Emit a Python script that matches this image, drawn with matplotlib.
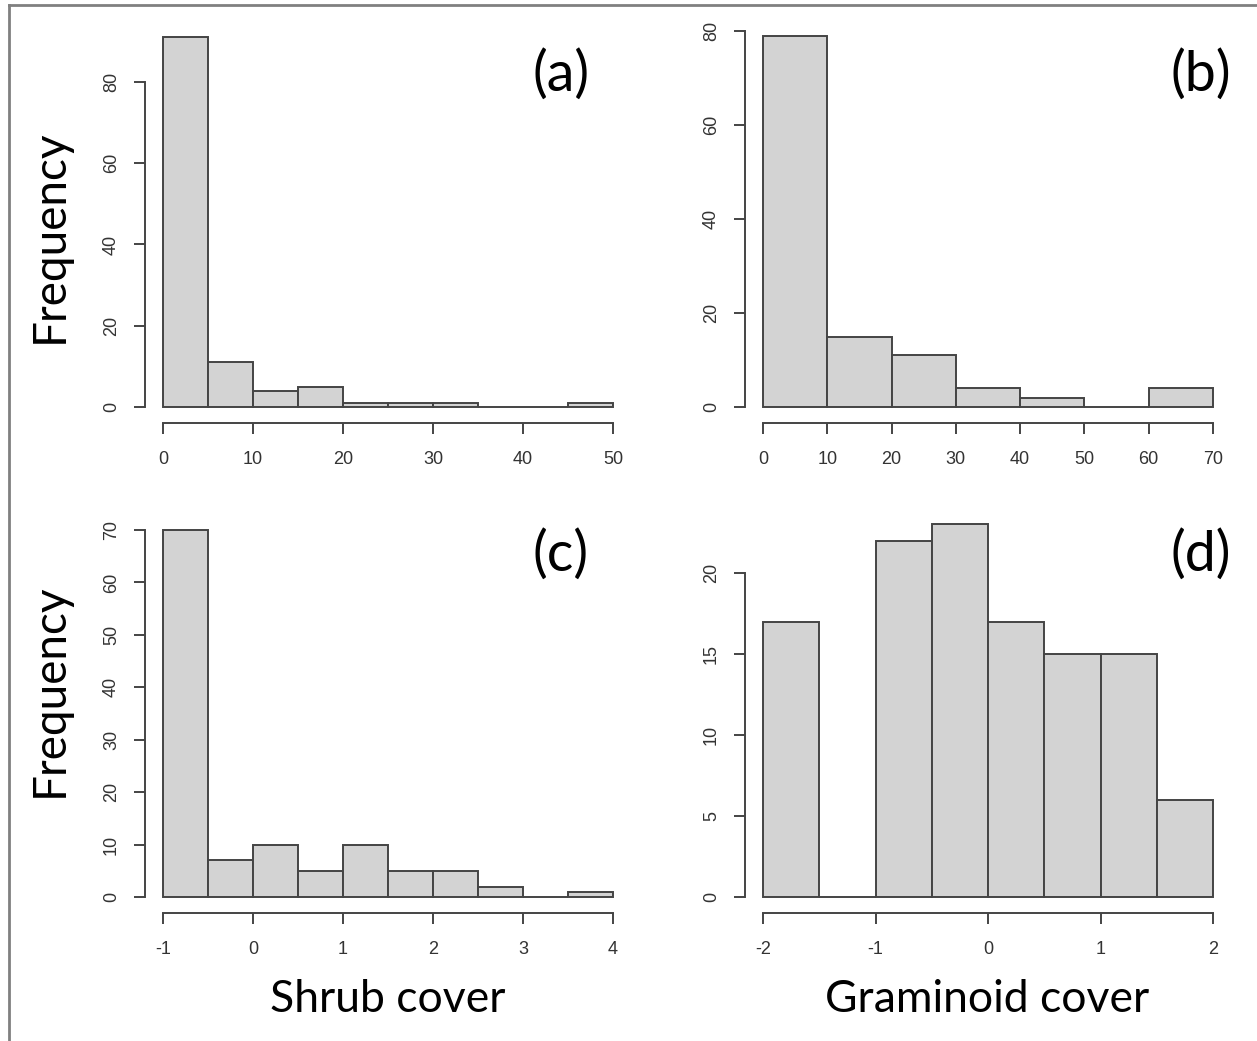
import numpy as np
import matplotlib
matplotlib.use("Agg")
import matplotlib.pyplot as plt
from matplotlib.lines import Line2D

# ---------------- data ----------------
a_edges = [0, 5, 10, 15, 20, 25, 30, 35, 40, 45, 50]
a_counts = [91, 11, 4, 5, 1, 1, 1, 0, 0, 1]
a_xticks = [0, 10, 20, 30, 40, 50]
a_yticks = [0, 20, 40, 60, 80]

b_edges = [0, 10, 20, 30, 40, 50, 60, 70]
b_counts = [79, 15, 11, 4, 2, 0, 4]
b_xticks = [0, 10, 20, 30, 40, 50, 60, 70]
b_yticks = [0, 20, 40, 60, 80]

c_edges = [-1.0, -0.5, 0.0, 0.5, 1.0, 1.5, 2.0, 2.5, 3.0, 3.5, 4.0]
c_counts = [70, 7, 10, 5, 10, 5, 5, 2, 0, 1]
c_xticks = [-1, 0, 1, 2, 3, 4]
c_yticks = [0, 10, 20, 30, 40, 50, 60, 70]

d_edges = [-2.0, -1.5, -1.0, -0.5, 0.0, 0.5, 1.0, 1.5, 2.0]
d_counts = [17, 0, 22, 23, 17, 15, 15, 6]
d_xticks = [-2, -1, 0, 1, 2]
d_yticks = [0, 5, 10, 15, 20]

panel_letters = ["(a)", "(b)", "(c)", "(d)"]
x_labels = ["Shrub cover", "Graminoid cover"]
y_label = "Frequency"

# ---------------- layout ----------------
W, H = 1257, 1041
fig = plt.figure(figsize=(W / 100, H / 100), dpi=100)
fig.patch.set_facecolor("white")

# pixel calibration: (data x0, px x0, data x1, px x1, px of y=0, px per y unit)
calib = [
    (0, 163, 50, 613, 407, (407 - 82) / 80),
    (0, 763, 70, 1213, 407, (407 - 31) / 80),
    (-1, 163, 4, 613, 897, (897 - 530) / 70),
    (-2, 763, 2, 1213, 897, (897 - 573) / 20),
]
panels = [
    (a_edges, a_counts, a_xticks, a_yticks),
    (b_edges, b_counts, b_xticks, b_yticks),
    (c_edges, c_counts, c_xticks, c_yticks),
    (d_edges, d_counts, d_xticks, d_yticks),
]

tick_color = "#333333"
line_color = "#444444"
fill_color = "#D3D3D3"

axes = []
for i, ((edges, counts, xt, yt), (dx0, px0, dx1, px1, py0, ppu)) in enumerate(zip(panels, calib)):
    xr = edges[-1] - edges[0]
    xlim = (edges[0] - 0.04 * xr, edges[-1] + 0.04 * xr)
    ymax = max(counts)
    ylim = (-0.04 * ymax, 1.04 * ymax)
    sx = (px1 - px0) / (dx1 - dx0)
    left_px = px0 + (xlim[0] - dx0) * sx
    right_px = px0 + (xlim[1] - dx0) * sx
    bot_px = py0 - ylim[0] * ppu
    top_px = py0 - ylim[1] * ppu
    ax = fig.add_axes([left_px / W, 1 - bot_px / H,
                       (right_px - left_px) / W, (bot_px - top_px) / H])
    ax.set_xlim(*xlim)
    ax.set_ylim(*ylim)
    ax.patch.set_alpha(0)

    widths = np.diff(edges)
    ax.bar(edges[:-1], counts, width=widths, align="edge",
           color=fill_color, edgecolor=line_color, linewidth=1.4, clip_on=False)

    for s in ["top", "right"]:
        ax.spines[s].set_visible(False)
    ax.spines["left"].set_bounds(yt[0], yt[-1])
    ax.spines["bottom"].set_bounds(xt[0], xt[-1])
    ax.spines["bottom"].set_position(("outward", 1))
    for s in ["left", "bottom"]:
        ax.spines[s].set_color(line_color)
        ax.spines[s].set_linewidth(1.4)

    ax.set_xticks(xt)
    ax.set_yticks(yt)
    ax.set_xticklabels([str(v) for v in xt])
    ax.set_yticklabels([str(v) for v in yt], rotation=90, va="center")
    ax.tick_params(axis="both", length=8, width=1.4, color=line_color,
                   labelsize=13, labelcolor=tick_color)
    ax.tick_params(axis="x", pad=12)
    ax.tick_params(axis="y", pad=10)
    for lab in ax.get_xticklabels() + ax.get_yticklabels():
        lab.set_fontfamily("Liberation Sans")
    axes.append(ax)

# panel letters
letter_pos = [(561, 75), (1201, 75), (561, 555), (1201, 555)]
for txt, (x, y) in zip(panel_letters, letter_pos):
    fig.text(x / W, 1 - y / H, txt, fontsize=40, family="Lato",
             ha="center", va="center", color="black")

# y labels
for y in [236, 690]:
    fig.text(50 / W, 1 - y / H, y_label, fontsize=33, family="Lato",
             rotation=90, ha="center", va="center", color="black")

# x labels
for txt, x in zip(x_labels, [388, 987]):
    fig.text(x / W, 1 - 1000 / H, txt, fontsize=32, family="Lato",
             ha="center", va="center", color="black")

# gray frame (top and left)
fig.add_artist(Line2D([8.5 / W, 8.5 / W], [0, 1 - 4.5 / H], transform=fig.transFigure,
                      color="#808080", linewidth=2))
fig.add_artist(Line2D([8.5 / W, 1], [1 - 4.5 / H, 1 - 4.5 / H], transform=fig.transFigure,
                      color="#808080", linewidth=2))

fig.savefig("out.png", dpi=100, facecolor="white")
